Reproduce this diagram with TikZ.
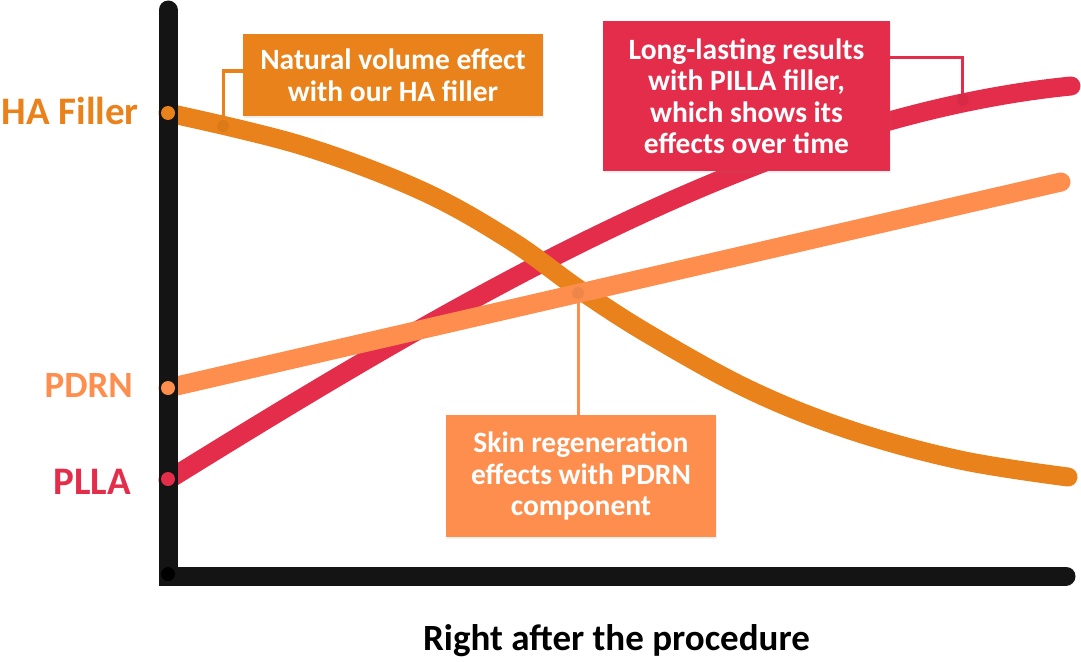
\documentclass[tikz,border=0pt]{standalone}
\usepackage{fontspec}
\setmainfont{Carlito}
\usetikzlibrary{shadows}
\definecolor{hafill}{HTML}{E9821A}
\definecolor{plla}{HTML}{E32D4B}
\definecolor{pdrn}{HTML}{FD8E4E}
\definecolor{axisblack}{HTML}{141414}
\begin{document}
\begin{tikzpicture}[x=1pt,y=-1pt,
    curve/.style={draw=#1,line width=19pt,line cap=round},
    axisline/.style={draw=axisblack,line width=19pt,line cap=round},
    enddot/.style={circle,fill=#1,minimum size=14pt,inner sep=0pt},
    pin/.style={circle,fill=#1!90!black,minimum size=12pt,inner sep=0pt,opacity=.55},
    leader/.style={draw=#1,line width=3pt},
    callout/.style={fill=#1,text=white,align=center,inner sep=0pt,
      font=\fontsize{29.5}{31.5}\selectfont\bfseries,
      drop shadow={opacity=.12,shadow xshift=1pt,shadow yshift=-2pt}},
    sidelabel/.style={text=#1,anchor=east,inner sep=0pt,
      font=\fontsize{39}{42}\selectfont\bfseries}]
  \useasboundingbox (0,0) rectangle (1081,661);

  %% curves
  \draw[curve=plla] (168,480) .. controls (468,294) and (771,116) .. (1071,86);
  \draw[curve=hafill] plot[smooth,tension=.6] coordinates {(168,113) (300,145)
    (420,190) (510,240) (580,290) (650,335) (750,390) (850,430) (960,460) (1068,477)};
  \draw[curve=pdrn] (168,388) -- (1061,182);

  %% axes
  \draw[axisline] (168,10) -- (168,576) -- (1066,576);
  \node[enddot=black] (origin) at (168,574) {};

  %% start points
  \node[enddot=hafill] (hastart) at (168,113) {};
  \node[enddot=pdrn] (pdrnstart) at (168,388) {};
  \node[enddot=plla] (pllastart) at (168,479) {};

  \node[sidelabel=hafill] (halabel) at (139,111) {HA Filler};
  \node[sidelabel=pdrn,font=\fontsize{37}{40}\selectfont\bfseries] (pdrnlabel) at (133,385) {PDRN};
  \node[sidelabel=plla] (pllalabel) at (131,482) {PLLA};

  %% callouts
  \node[callout=hafill,minimum width=300pt,minimum height=82pt] (habox) at (393,75)
    {Natural volume effect\\with our HA filler};
  \node[callout=plla,minimum width=287pt,minimum height=150pt] (pllabox) at (746.5,96)
    {Long-lasting results\\with PILLA filler,\\which shows its\\effects over time};
  \node[callout=pdrn,minimum width=270pt,minimum height=122pt] (pdrnbox) at (581,476)
    {Skin regeneration\\effects with PDRN\\component};

  \coordinate (hapin) at (223,126);
  \coordinate (pllapin) at (962.5,100);
  \coordinate (pdrnpin) at (578,293);

  \draw[leader=hafill] (hapin) |- ([yshift=4pt]habox.west);
  \draw[leader=plla] ([yshift=38pt]pllabox.east) -| (pllapin);
  \draw[leader=pdrn] (pdrnpin) -- (pdrnpin |- pdrnbox.north);

  \node[pin=hafill] at (hapin) {};
  \node[pin=plla] at (pllapin) {};
  \node[pin=pdrn] at (pdrnpin) {};

  %% x axis caption
  \node[font=\fontsize{37}{40}\selectfont\bfseries,inner sep=0pt] (xcaption) at (616.5,641)
    {Right after the procedure};
\end{tikzpicture}
\end{document}
